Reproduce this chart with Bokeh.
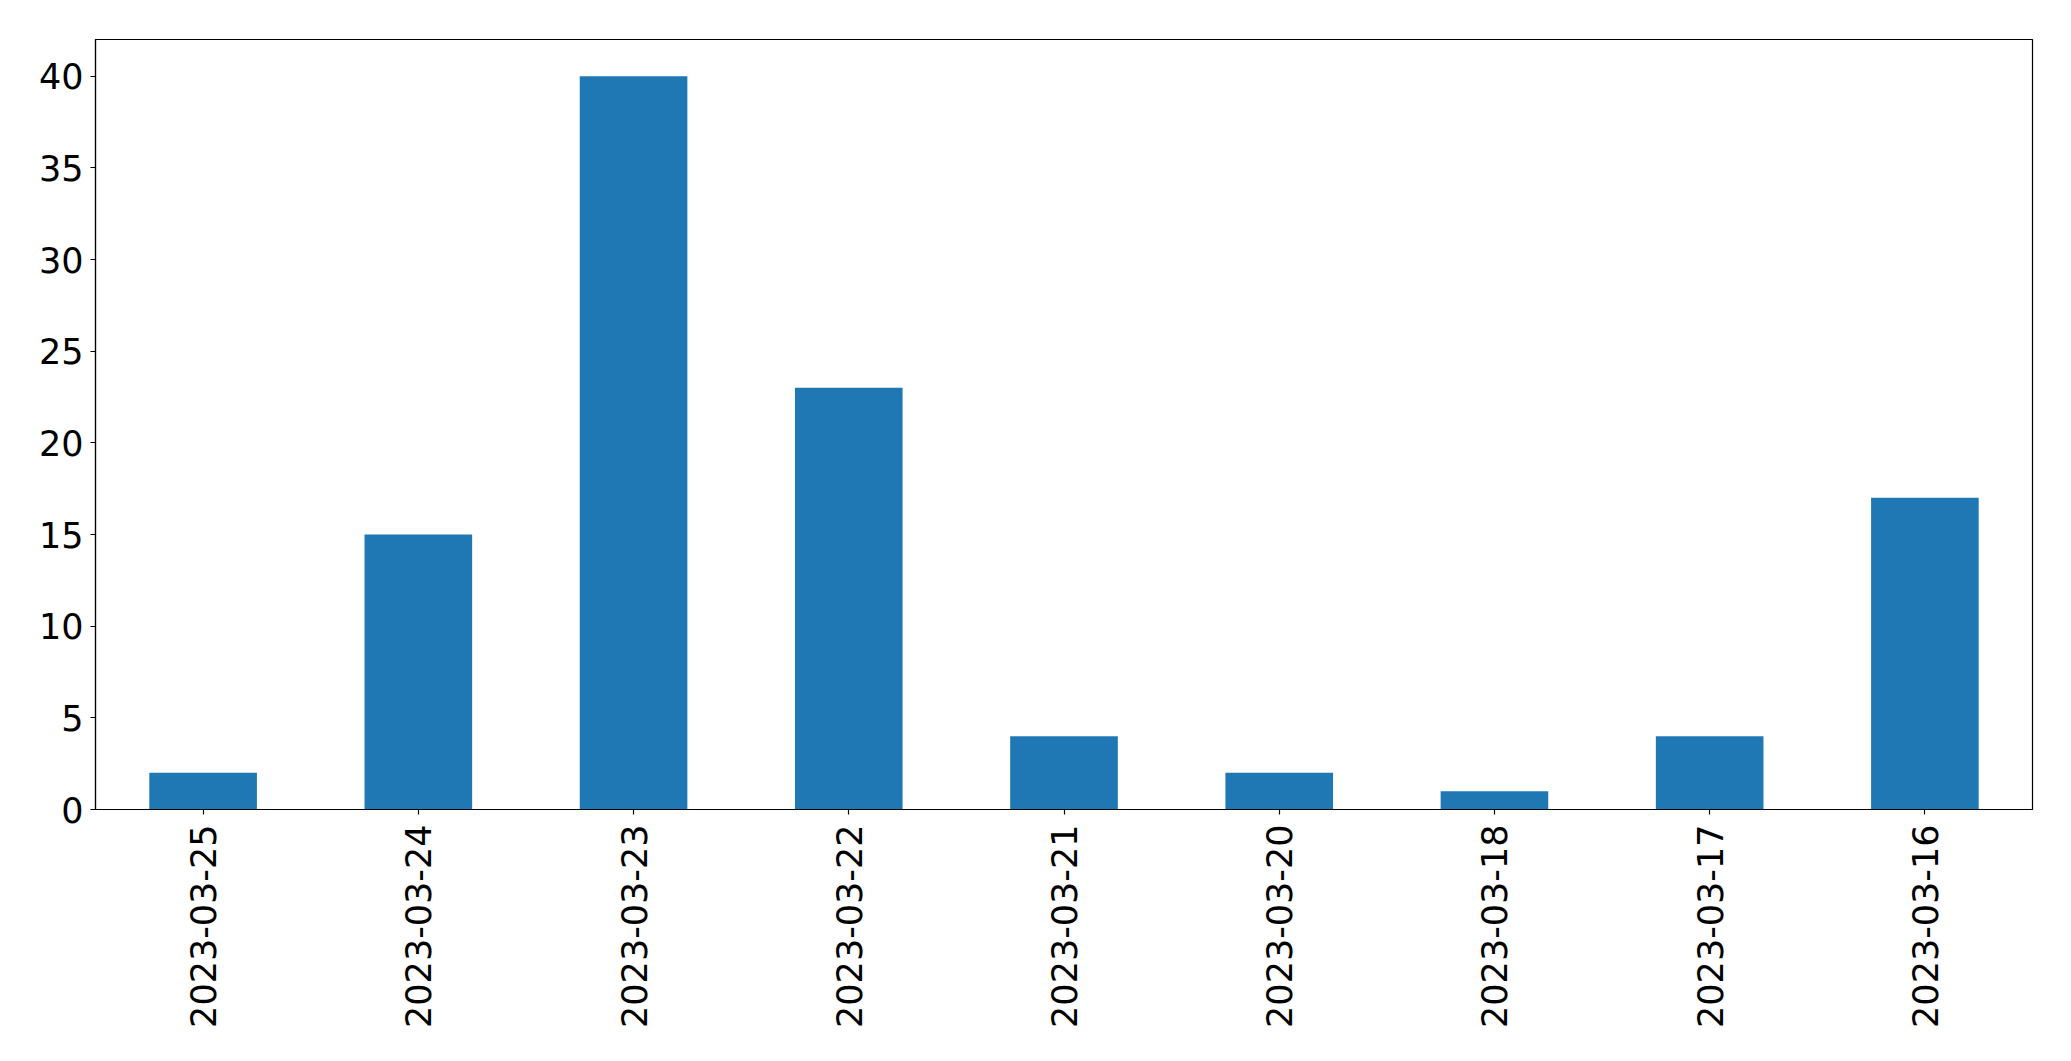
from bokeh.plotting import figure
from bokeh.models import FactorRange, Range1d, SingleIntervalTicker
from bokeh.embed import file_html
from bokeh.resources import INLINE
import math

dates = ["2023-03-25", "2023-03-24", "2023-03-23", "2023-03-22", "2023-03-21",
         "2023-03-20", "2023-03-18", "2023-03-17", "2023-03-16"]
counts = [2, 15, 40, 23, 4, 2, 1, 4, 17]

p = figure(width=2055, height=1045, output_backend="svg", toolbar_location=None,
           x_range=FactorRange(factors=dates, range_padding=0),
           y_range=Range1d(0, 42),
           min_border_left=95, min_border_right=23, min_border_top=39, min_border_bottom=236)

p.vbar(x=dates, top=counts, width=0.5, color="#1f77b4", line_color=None)

p.outline_line_color = "black"
p.outline_line_width = 1.2
p.xgrid.visible = False
p.ygrid.visible = False
p.background_fill_color = "white"
p.border_fill_color = "white"

font = "DejaVu Sans"
for ax in (p.xaxis[0], p.yaxis[0]):
    ax.major_label_text_font = font
    ax.major_label_text_font_size = "35px"
    ax.major_label_text_color = "black"
    ax.axis_line_color = "black"
    ax.axis_line_width = 1.2
    ax.major_tick_line_color = "black"
    ax.major_tick_line_width = 1.2
    ax.major_tick_out = 5
    ax.major_tick_in = 0
    ax.minor_tick_line_color = None

p.yaxis[0].ticker = SingleIntervalTicker(interval=5)
p.yaxis[0].major_label_standoff = 7
p.xaxis[0].major_label_orientation = math.pi / 2
p.xaxis[0].major_label_standoff = 10
p.xaxis[0].group_text_font_size = "0px"

open("out.html", "w").write(file_html(p, INLINE))
